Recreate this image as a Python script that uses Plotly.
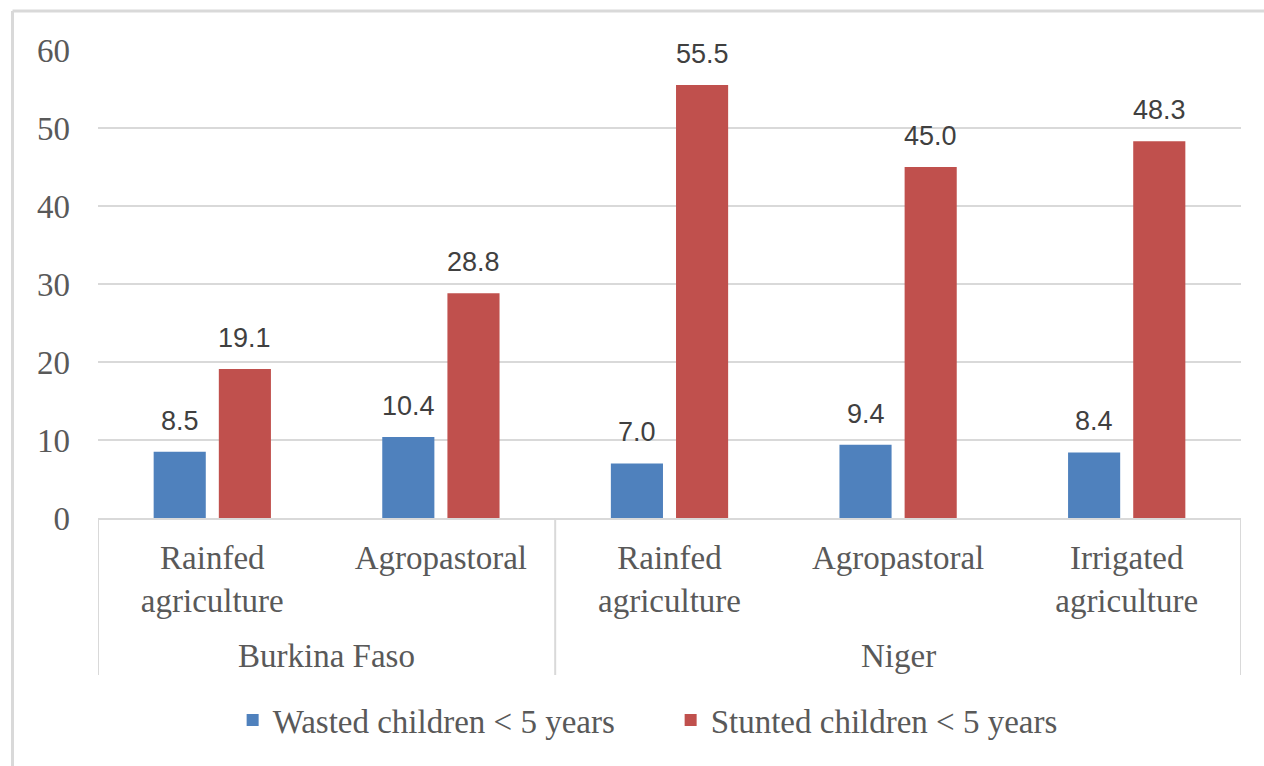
import plotly.graph_objects as go

# Farming systems grouped by country
countries = ["Burkina Faso", "Niger"]
systems_per_country = [2, 3]
systems = ["Rainfed<br>agriculture", "Agropastoral", "Rainfed<br>agriculture",
           "Agropastoral", "Irrigated<br>agriculture"]

wasted = [8.5, 10.4, 7.0, 9.4, 8.4]
stunted = [19.1, 28.8, 55.5, 45.0, 48.3]

series_names = ["Wasted children < 5 years", "Stunted children < 5 years"]
series_colors = ["#4f81bd", "#c0504d"]

y_ticks = [0, 10, 20, 30, 40, 50, 60]

BARGAP = 0.43
GROUPGAP = 0.2
GRID = "#d9d9d9"

AXIS_FONT = dict(family="Liberation Serif", size=33, color="#595959")
LABEL_FONT = dict(family="Liberation Sans", size=27, color="#404040")

pos = list(range(len(systems)))

fig = go.Figure()
for name, vals, col in zip(series_names, [wasted, stunted], series_colors):
    fig.add_trace(go.Bar(
        x=pos, y=vals, name=name,
        marker=dict(color=col, line=dict(width=0)),
    ))

# value labels above each bar
slot = (1 - BARGAP) / 2
for k, vals in enumerate([wasted, stunted]):
    off = (k - 0.5) * slot
    for i, v in enumerate(vals):
        fig.add_annotation(
            x=pos[i] + off, y=v, xref="x", yref="y", text=f"{v:.1f}",
            showarrow=False, yanchor="bottom", yshift=14, font=LABEL_FONT,
        )

# plot area geometry in pixels, used to place the outer axis parts
W, H = 1264, 766
ML, MR, MT, MB = 98, 23, 50, 248
PW, PH = W - ML - MR, H - MT - MB

# country labels and the dividers between country groups
start = -0.5
edges = [start]
for name, n in zip(countries, systems_per_country):
    end = start + n
    fig.add_annotation(x=(start + end) / 2, y=-0.295, xref="x", yref="paper",
                       text=name, showarrow=False, yanchor="middle",
                       font=AXIS_FONT)
    edges.append(end)
    start = end
for e in edges:
    fig.add_shape(type="line", xref="x", yref="paper", x0=e, x1=e,
                  y0=0, y1=-0.3355, line=dict(color=GRID, width=2))

fig.update_layout(
    width=W, height=H,
    margin=dict(l=ML, r=MR, t=MT, b=MB),
    paper_bgcolor="white", plot_bgcolor="white",
    barmode="group", bargap=BARGAP, bargroupgap=GROUPGAP,
    font=AXIS_FONT,
    showlegend=True,
    legend=dict(orientation="h", x=0.501, xanchor="center", y=-0.4316,
                yanchor="middle", font=AXIS_FONT, entrywidth=393,
                bgcolor="rgba(0,0,0,0)"),
    xaxis=dict(range=[-0.5, len(systems) - 0.5], tickvals=pos,
               ticktext=systems, showline=True, linecolor=GRID, linewidth=2,
               showgrid=False, zeroline=False, tickfont=AXIS_FONT,
               ticklabelstandoff=9),
    yaxis=dict(range=[0, 60], tickvals=y_ticks, showgrid=True,
               gridcolor=GRID, gridwidth=2, zeroline=False,
               showline=False, tickfont=AXIS_FONT, ticklabelstandoff=27),
)

# chart frame along the top and left edges
fx0 = (12.5 - ML) / PW
fy1 = (H - MB - 11) / PH
fig.add_shape(type="line", xref="paper", yref="paper", x0=fx0, x1=fx0,
              y0=-1, y1=fy1, line=dict(color=GRID, width=3))
fig.add_shape(type="line", xref="paper", yref="paper", x0=fx0, x1=1.2,
              y0=fy1, y1=fy1, line=dict(color=GRID, width=3))

fig.write_html("out.html")
